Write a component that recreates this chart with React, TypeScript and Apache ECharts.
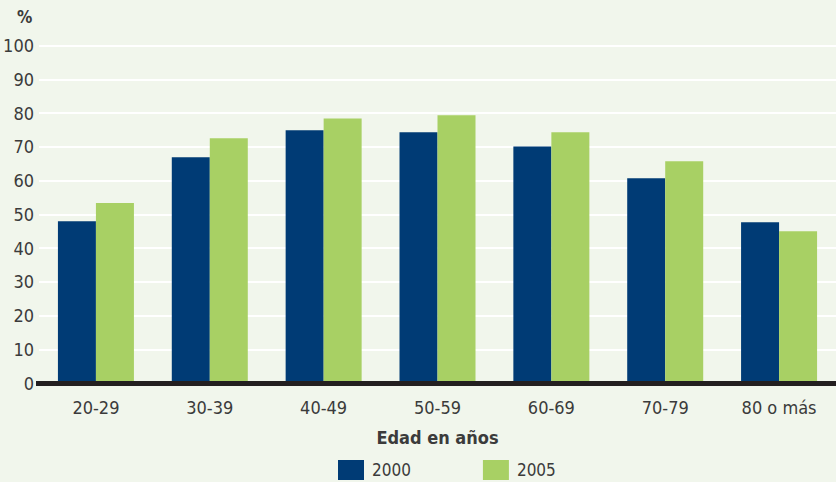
import React, { useEffect, useRef } from "react";
import * as echarts from "echarts";

const categories = ["20-29", "30-39", "40-49", "50-59", "60-69", "70-79", "80 o más"];
const series2000 = [47.9, 66.9, 74.9, 74.3, 70.1, 60.7, 47.6];
const series2005 = [53.3, 72.5, 78.4, 79.3, 74.3, 65.7, 45.0];
const seriesNames = ["2000", "2005"];
const yTicks = { min: 0, max: 100, interval: 10 };

const FONT = "'Liberation Sans Narrow', 'DejaVu Sans Condensed', 'Roboto Condensed', sans-serif";
const TEXT = "#3b3b3b";

export default function App() {
  const ref = useRef<HTMLDivElement>(null);
  useEffect(() => {
    if (!ref.current) return;
    const chart = echarts.init(ref.current, null, { renderer: "svg" });
    chart.setOption({
      animation: false,
      backgroundColor: "#f1f6ec",
      textStyle: { fontFamily: FONT },
      grid: { left: 39, right: -4, top: 45.5, bottom: 99, containLabel: false },
      legend: {
        data: seriesNames,
        top: 460,
        left: 338,
        padding: 0,
        itemWidth: 26,
        itemHeight: 20,
        itemGap: 72,
        icon: "rect",
        textStyle: { fontFamily: FONT, fontSize: 17, lineHeight: 18, color: TEXT, padding: [0, 0, 0, 3] },
      },
      graphic: [
        {
          type: "text",
          left: 17,
          top: 8,
          style: { text: "%", font: `bold 17px ${FONT}`, fill: TEXT },
        },
      ],
      xAxis: {
        type: "category",
        data: categories,
        name: "Edad en años",
        nameLocation: "middle",
        nameGap: 45,
        nameTextStyle: { fontFamily: FONT, fontSize: 18, fontWeight: "bold", color: TEXT },
        axisLine: { show: false },
        axisTick: { show: false },
        axisLabel: { fontFamily: FONT, fontSize: 18, color: TEXT, margin: 15 },
      },
      yAxis: {
        type: "value",
        min: yTicks.min,
        max: yTicks.max,
        interval: yTicks.interval,
        axisLine: { show: false },
        axisTick: { show: false },
        axisLabel: { fontFamily: FONT, fontSize: 18, color: TEXT, margin: 5 },
        splitLine: { lineStyle: { color: "#ffffff", width: 2 } },
      },
      series: [
        {
          name: seriesNames[0],
          type: "bar",
          data: series2000,
          barWidth: 38,
          barGap: "0%",
          itemStyle: { color: "#003b75" },
          markLine: {
            silent: true,
            symbol: "none",
            label: { show: false },
            lineStyle: { color: "#231f20", width: 5, type: "solid" },
            data: [[{ coord: [0, 0], x: 36 }, { coord: [6, 0], x: 836 }]],
          },
        },
        {
          name: seriesNames[1],
          type: "bar",
          data: series2005,
          barWidth: 38,
          itemStyle: { color: "#a8d064" },
        },
      ],
    });
    return () => chart.dispose();
  }, []);
  return <div ref={ref} style={{ width: 836, height: 482, position: "fixed", left: 0, top: 0 }} />;
}
